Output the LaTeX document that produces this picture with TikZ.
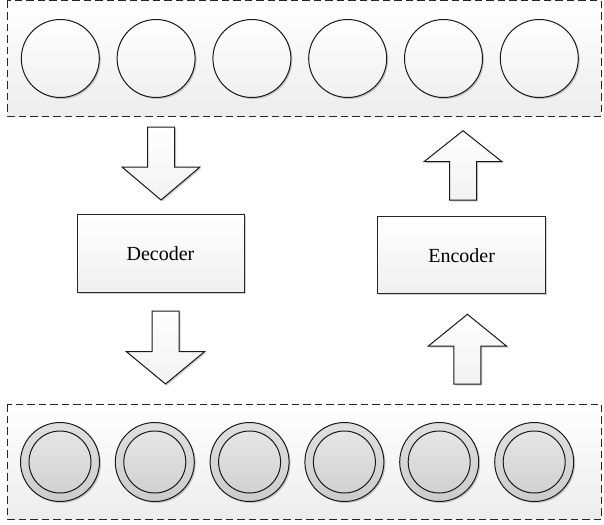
\documentclass[tikz,border=0pt]{standalone}
\usepackage{fontspec}
\setmainfont{Liberation Serif}
\usetikzlibrary{shadows}
\begin{document}
\begin{tikzpicture}[x=1pt,y=-1pt,
  shadowed/.style={drop shadow={shadow xshift=1.5pt,shadow yshift=-1.5pt,opacity=0.18,fill=black}},
  band/.style={draw=black!85, line width=1pt, dash pattern=on 7.5pt off 4pt, top color=white, bottom color=black!7},
  plaincirc/.style={circle, draw=black!90, line width=1pt, minimum size=78pt, inner sep=0pt, top color=white, bottom color=black!6, shadowed},
  outercirc/.style={circle, draw=black!90, line width=1pt, minimum size=79pt, inner sep=0pt, top color=black!12, bottom color=black!20, shadowed},
  innercirc/.style={circle, draw=black!90, line width=1pt, minimum size=62pt, inner sep=0pt, top color=black!10, bottom color=black!18},
  codebox/.style={rectangle, draw=black!85, line width=1pt, top color=white, bottom color=black!6, font=\fontsize{20}{23}\selectfont, shadowed},
  blockarrow/.style={draw=black!90, line width=1pt, line join=miter, top color=white, bottom color=black!5, shadowed}
]
\useasboundingbox (0,0) rectangle (604,524);
% bands
\path[band] (7,1) rectangle (601,116);
\path[band] (7,404) rectangle (601.5,519);
% top circles
\foreach \i/\cx in {1/60.3,2/156.1,3/251.9,4/347.7,5/443.5,6/539.3}{
  \node[plaincirc] (t\i) at (\cx,58.5) {};
}
% bottom circles
\foreach \i/\cx in {1/60,2/154.8,3/249.6,4/344.4,5/439.2,6/534.2}{
  \node[outercirc] (b\i) at (\cx,462) {};
  \node[innercirc] (bi\i) at (\cx,462) {};
}
% boxes
\node[codebox, minimum width=167pt, minimum height=78pt] (dec) at (160.5,253.8) {Decoder};
\node[codebox, minimum width=168pt, minimum height=77pt] (enc) at (461.7,255.3) {Encoder};
% block arrows
\newcommand{\blockarr}[4]{% cx, tail y, head base y, tip y
  \path[blockarrow] (#1-13.5,#2) -- (#1+13.5,#2) -- (#1+13.5,#3) -- (#1+39,#3) -- (#1,#4) -- (#1-39,#3) -- (#1-13.5,#3) -- cycle;}
\blockarr{161}{127}{167}{200}
\blockarr{165.5}{311}{351.7}{384}
\blockarr{463}{200}{161.7}{130.7}
\blockarr{467.4}{384}{346}{314.3}
\end{tikzpicture}
\end{document}
